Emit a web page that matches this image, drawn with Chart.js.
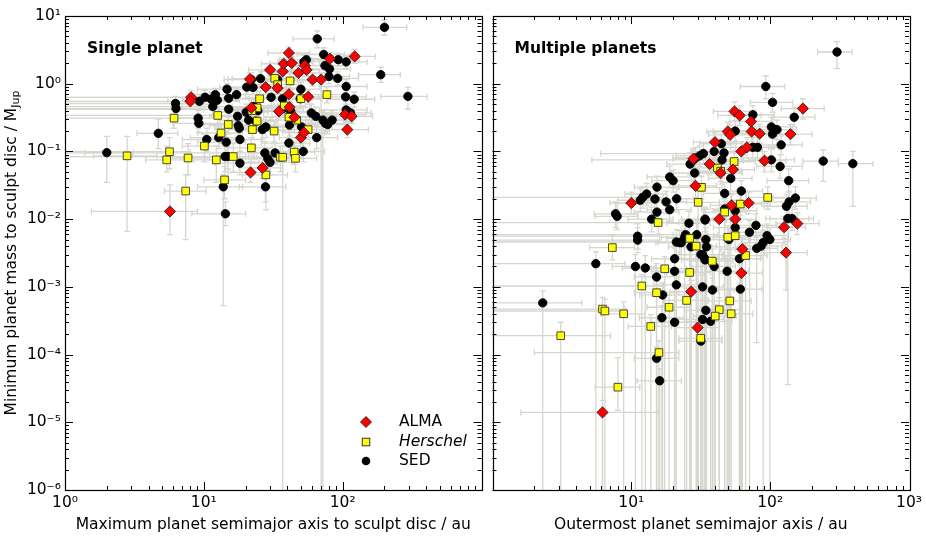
<!DOCTYPE html>
<html>
<head>
<meta charset="utf-8">
<script src="https://cdn.jsdelivr.net/npm/chart.js@4.4.1/dist/chart.umd.min.js"></script>
<style>
  html, body { margin: 0; padding: 0; background: #fff; }
  #wrap { position: relative; width: 926px; height: 544px; overflow: hidden; }
  canvas { position: absolute; top: 0; }
  #left { left: 0; }
  #right { left: 486px; }
</style>
</head>
<body>
<div id="wrap">
  <canvas id="left" width="488" height="544"></canvas>
  <canvas id="right" width="440" height="544"></canvas>
</div>
<script>
// rows: [x, y, xLow, xHigh, yLow, yHigh]
const singleSed = [
  [2, 0.096, 1.39, 3.1, 0.035, 0.167], [4.7, 0.185, 3.3, 6.5, 0.11, 0.3],
  [6.25, 0.51, 0.5, 9, 0.4, 0.65], [6.3, 0.43, 0.5, 10, 0.3, 0.55],
  [9.1, 0.31, 6, 13, 0.22, 0.4], [9.2, 0.26, 6, 13, 0.19, 0.34],
  [9.3, 0.55, 0.5, 14, 0.42, 0.7], [10.2, 0.63, 0.5, 15, 0.5, 0.8],
  [11.3, 0.59, 7, 16, 0.45, 0.75], [12.1, 0.69, 8, 17, 0.55, 0.85],
  [12.5, 0.57, 8, 18, 0.44, 0.72], [11.6, 0.46, 7, 16, 0.35, 0.6],
  [10.5, 0.15, 7, 15, 0.1, 0.22], [12.8, 0.16, 8, 18, 0.11, 0.23],
  [14.7, 0.83, 9, 20, 0.65, 1.0], [15.1, 0.61, 10, 21, 0.47, 0.78],
  [17.2, 0.69, 11, 24, 0.55, 0.87], [15.1, 0.42, 0.5, 21, 0.32, 0.55],
  [14.5, 0.137, 9, 20, 0.09, 0.2], [14.9, 0.084, 0.5, 21, 0.055, 0.12],
  [14.2, 0.084, 0.5, 20, 0.05, 0.13], [18.2, 0.067, 12, 25, 0.045, 0.1],
  [18.2, 0.15, 12, 26, 0.1, 0.22], [13.8, 0.03, 9, 19, 0.00053, 0.045],
  [14.3, 0.012, 8.2, 20, 0.008, 0.018], [17.5, 0.33, 11, 25, 0.24, 0.45],
  [17.7, 0.24, 11, 25, 0.17, 0.33], [18, 0.22, 12, 26, 0.15, 0.3],
  [20.4, 0.89, 13, 29, 0.7, 1.1], [22, 1.15, 14, 31, 0.9, 1.45],
  [25.6, 1.19, 16, 36, 0.95, 1.5], [22.6, 0.88, 14, 32, 0.7, 1.1],
  [20.2, 0.38, 13, 29, 0.28, 0.5], [22.9, 0.46, 0.5, 32, 0.35, 0.6],
  [24.5, 0.4, 15, 35, 0.3, 0.52], [21, 0.29, 13, 30, 0.2, 0.4],
  [23.6, 0.28, 15, 33, 0.2, 0.38], [26.4, 0.21, 17, 37, 0.15, 0.29],
  [28, 0.23, 18, 40, 0.16, 0.32], [27.5, 0.095, 0.5, 39, 0.065, 0.14],
  [28.9, 0.078, 18, 41, 0.05, 0.11], [30, 0.069, 19, 43, 0.045, 0.1],
  [32.6, 0.095, 21, 46, 0.065, 0.13], [27.8, 0.03, 18, 39, 0.018, 0.045],
  [36.9, 0.6, 24, 52, 0.45, 0.78], [37.1, 0.43, 24, 52, 0.32, 0.56],
  [42.3, 0.39, 27, 60, 0.29, 0.52], [41.4, 0.245, 26, 58, 0.17, 0.34],
  [41, 0.133, 26, 58, 0.09, 0.19], [50, 0.83, 32, 70, 0.65, 1.05],
  [49.4, 0.6, 32, 70, 0.46, 0.78], [52, 0.1, 33, 74, 0.07, 0.14],
  [54.8, 2.26, 35, 78, 1.8, 2.8], [52.6, 2.1, 34, 75, 1.65, 2.6],
  [50.6, 0.23, 32, 72, 0.16, 0.32], [59.5, 0.37, 38, 84, 0.27, 0.5],
  [64, 0.33, 41, 90, 0.24, 0.45], [65, 0.16, 42, 92, 0.11, 0.23],
  [65.6, 4.6, 44, 87, 3.4, 6.0], [73, 2.7, 47, 103, 2.1, 3.4],
  [74.5, 1.85, 48, 105, 1.45, 2.35], [80.5, 1.65, 52, 114, 1.3, 2.1],
  [79.7, 1.28, 51, 112, 1.0, 1.6], [72, 0.29, 46, 102, 0.0000001, 0.4],
  [75, 0.26, 48, 106, 0.19, 0.36], [78, 0.25, 50, 110, 0.18, 0.35],
  [84, 0.29, 54, 118, 0.21, 0.4], [92, 1.2, 59, 130, 0.95, 1.5],
  [93, 2.26, 60, 131, 1.8, 2.8], [106, 2.1, 68, 150, 1.65, 2.65],
  [106, 0.91, 68, 150, 0.7, 1.15], [105, 0.64, 67, 148, 0.5, 0.82],
  [121, 0.59, 78, 170, 0.45, 0.76], [106, 0.41, 68, 150, 0.3, 0.55],
  [114, 0.37, 73, 160, 0.27, 0.5], [188, 1.36, 130, 260, 1.05, 1.75],
  [200, 6.8, 140, 290, 5.2, 8.8], [295, 0.65, 188, 405, 0.42, 0.88],
  [34, 1.15, 22, 48, 0.9, 1.45], [30.5, 0.63, 20, 43, 0.48, 0.8]
];
const singleHerschel = [
  [2.8, 0.086, 1.6, 4.6, 0.0066, 0.167], [5.4, 0.075, 3.8, 7.6, 0.05, 0.12],
  [5.66, 0.099, 0.5, 8, 0.055, 0.16], [6.1, 0.31, 0.5, 8.6, 0.22, 0.42],
  [7.4, 0.026, 5.2, 10.4, 0.005, 0.045], [7.7, 0.08, 5.4, 11, 0.045, 0.13],
  [10.1, 0.12, 7, 14, 0.07, 0.18], [12.3, 0.075, 8.5, 17, 0.035, 0.12],
  [12.6, 0.34, 0.5, 18, 0.24, 0.46], [13.3, 0.187, 9, 19, 0.13, 0.26],
  [14.1, 0.038, 10, 20, 0.02, 0.06], [15, 0.25, 10, 21, 0.18, 0.34],
  [16.3, 0.084, 11, 23, 0.05, 0.13], [22, 0.113, 15, 31, 0.07, 0.16],
  [22.4, 0.21, 15, 32, 0.15, 0.29], [24.2, 0.28, 16, 34, 0.2, 0.38],
  [24.2, 0.44, 16, 34, 0.32, 0.58], [22.2, 0.4, 15, 31, 0.29, 0.53],
  [25.2, 0.6, 17, 36, 0.45, 0.78], [28, 0.045, 19, 40, 0.0137, 0.08],
  [32.1, 0.2, 21, 45, 0.14, 0.28], [32.4, 1.2, 21, 46, 0.95, 1.5],
  [34, 0.97, 22, 48, 0.75, 1.25], [35.6, 0.082, 23, 50, 0.05, 0.12],
  [37, 0.082, 24, 52, 0.0000001, 0.12], [38, 0.47, 25, 54, 0.35, 0.62],
  [41, 0.32, 27, 58, 0.23, 0.43], [41.8, 1.1, 27, 59, 0.85, 1.4],
  [44.8, 0.098, 29, 63, 0.065, 0.14], [45.7, 0.079, 30, 65, 0.05, 0.12],
  [46.6, 0.29, 30, 66, 0.21, 0.4], [50, 0.6, 33, 71, 0.45, 0.78],
  [56.4, 0.21, 37, 80, 0.15, 0.29], [77, 0.69, 50, 108, 0.52, 0.9]
];
const singleAlma = [
  [5.7, 0.013, 1.55, 9, 0.0059, 0.032], [8.1, 0.63, 0.5, 11.5, 0.5, 0.8],
  [8.0, 0.55, 5.5, 11.3, 0.42, 0.7], [21.7, 0.049, 15, 30, 0.035, 0.07],
  [21.5, 1.17, 15, 30, 0.95, 1.45], [22, 0.44, 15, 31, 0.33, 0.58],
  [26.5, 0.057, 18, 37, 0.04, 0.08], [27.9, 0.89, 19, 39, 0.7, 1.1],
  [30, 1.6, 21, 42, 1.3, 2.0], [34, 0.86, 24, 48, 0.7, 1.05],
  [34.8, 0.39, 24, 49, 0.3, 0.5], [37, 1.52, 26, 52, 1.2, 1.9],
  [37.6, 1.97, 26, 53, 1.6, 2.4], [41, 2.84, 29, 58, 2.3, 3.5],
  [41, 0.7, 29, 58, 0.55, 0.88], [41.4, 0.45, 29, 58, 0.35, 0.57],
  [43, 2.02, 30, 61, 1.6, 2.5], [44.9, 0.32, 31, 63, 0.25, 0.41],
  [48, 1.44, 34, 68, 1.15, 1.8], [50, 0.16, 35, 70, 0.12, 0.21],
  [52.6, 0.19, 37, 74, 0.15, 0.24], [53.3, 1.85, 37, 75, 1.5, 2.3],
  [55, 1.6, 38, 78, 1.3, 2.0], [56.4, 0.64, 40, 80, 0.5, 0.8],
  [60.7, 1.15, 43, 86, 0.92, 1.45], [70, 1.15, 49, 99, 0.0000001, 1.45],
  [81, 2.34, 57, 115, 1.9, 2.9], [122, 2.53, 86, 172, 2.0, 3.2],
  [104, 0.35, 73, 147, 0.28, 0.44], [116, 0.33, 82, 164, 0.26, 0.42],
  [108, 0.21, 76, 153, 0.16, 0.27]
];
const multiSed = [
  [303, 2.94, 220, 390, 1.67, 4.2], [93, 0.91, 61, 127, 0.6, 1.3],
  [104, 0.53, 72, 145, 0.38, 0.72], [149, 0.32, 105, 210, 0.23, 0.45],
  [102, 0.23, 70, 145, 0.16, 0.32], [112, 0.21, 78, 155, 0.15, 0.29],
  [104, 0.18, 72, 148, 0.12, 0.25], [120, 0.125, 84, 170, 0.09, 0.17],
  [241, 0.072, 172, 310, 0.036, 0.105], [394, 0.066, 310, 550, 0.0154, 0.1],
  [102, 0.075, 70, 150, 0.05, 0.11], [118, 0.06, 80, 170, 0.04, 0.09],
  [136, 0.037, 95, 190, 0.025, 0.055], [152, 0.0205, 105, 215, 0.014, 0.03],
  [131, 0.0155, 90, 185, 0.0105, 0.023], [137, 0.018, 95, 195, 0.012, 0.026],
  [134, 0.0102, 93, 190, 0.000036, 0.015], [144, 0.0102, 100, 205, 0.0068, 0.015],
  [75, 0.348, 52, 107, 0.25, 0.47], [81, 0.115, 56, 115, 0.08, 0.16],
  [75, 0.115, 52, 107, 0.08, 0.16], [56, 0.2, 39, 80, 0.14, 0.28],
  [52, 0.04, 36, 74, 0.0004, 0.06], [47, 0.024, 33, 67, 0.0000001, 0.035],
  [62, 0.026, 43, 88, 0.017, 0.037], [44.5, 0.13, 31, 63, 0.09, 0.18],
  [39.5, 0.1, 27, 56, 0.07, 0.14], [46.5, 0.095, 32, 66, 0.065, 0.135],
  [45, 0.075, 31, 64, 0.05, 0.11], [33, 0.093, 6, 47, 0.065, 0.13],
  [31, 0.086, 21, 44, 0.06, 0.12], [29, 0.08, 20, 41, 0.055, 0.115],
  [28, 0.075, 5.2, 40, 0.05, 0.11], [26.5, 0.065, 18, 38, 0.045, 0.095],
  [28.6, 0.048, 19.5, 41, 0.033, 0.07], [18.9, 0.042, 13, 27, 0.029, 0.06],
  [20, 0.037, 14, 28, 0.025, 0.053], [15.3, 0.0297, 10.5, 22, 0.02, 0.043],
  [14.8, 0.0198, 10, 21, 0.0135, 0.029], [17.8, 0.018, 12, 25, 0.012, 0.026],
  [21.2, 0.02, 14.5, 30, 0.0135, 0.029], [18.9, 0.0138, 13, 27, 0.0093, 0.02],
  [15.3, 0.0127, 10.5, 22, 0.0085, 0.019], [12.9, 0.0235, 9, 18, 0.016, 0.034],
  [12.1, 0.021, 0.5, 17, 0.0145, 0.03], [11.6, 0.019, 8, 16.5, 0.013, 0.028],
  [7.7, 0.012, 5.4, 11, 0.0075, 0.018], [7.9, 0.011, 5.5, 11.2, 0.007, 0.017],
  [14, 0.01, 9.5, 20, 0.0065, 0.015], [34, 0.01, 23, 48, 0.0065, 0.015],
  [47, 0.0141, 32, 67, 0.0095, 0.02], [56, 0.0133, 39, 80, 0.009, 0.019],
  [26, 0.0087, 18, 37, 0.0058, 0.013], [11.1, 0.0056, 0.5, 16, 0.0036, 0.0085],
  [11.1, 0.0049, 0.5, 16, 0.0032, 0.0075], [10.7, 0.002, 7.3, 15, 0.0000001, 0.003],
  [12.6, 0.0019, 8.6, 18, 0.0000001, 0.0029], [15.2, 0.0014, 10.5, 22, 0.0000001, 0.0022],
  [20.5, 0.0026, 14, 29, 0.0000001, 0.004], [20.5, 0.0017, 14, 29, 0.0000001, 0.0026],
  [24.2, 0.0054, 16.5, 34, 0.0000001, 0.008], [22.3, 0.0045, 15, 32, 0.003, 0.0068],
  [21.1, 0.0046, 0.5, 30, 0.003, 0.007], [29.6, 0.0059, 20, 42, 0.0000001, 0.009],
  [34.4, 0.005, 24, 49, 0.0000001, 0.0075], [34.8, 0.0039, 24, 49, 0.0000001, 0.006],
  [32.6, 0.003, 22, 46, 0.0000001, 0.0045], [33.9, 0.0026, 23, 48, 0.0000001, 0.004],
  [39.5, 0.002, 27, 56, 0.0000001, 0.003], [49, 0.0017, 34, 70, 0.0000001, 0.0026],
  [60, 0.0026, 42, 85, 0.0000001, 0.004], [56, 0.0075, 39, 80, 0.005, 0.011],
  [50.5, 0.005, 35, 72, 0.0000001, 0.0075], [71, 0.0064, 50, 100, 0.0000001, 0.0095],
  [79, 0.0081, 55, 112, 0.0054, 0.012], [80, 0.0037, 56, 113, 0.00015, 0.0056],
  [89, 0.0045, 62, 126, 0.0000001, 0.0068], [86, 0.004, 60, 122, 0.0026, 0.006],
  [95, 0.0057, 66, 135, 0.0038, 0.0085], [99.5, 0.005, 70, 140, 0.0000001, 0.0075],
  [5.55, 0.0022, 0.5, 9, 0.0000001, 0.0033], [16.8, 0.00076, 11.5, 24, 0.0000001, 0.00115],
  [21.1, 0.00107, 14.5, 30, 0.0000001, 0.0016], [16.6, 0.00035, 11.4, 24, 0.0000001, 0.00053],
  [20.5, 0.0003, 14, 29, 0.0000001, 0.00045], [22.9, 0.0045, 15.6, 32.5, 0.003, 0.0068],
  [24.6, 0.0059, 0.5, 35, 0.004, 0.009], [26.9, 0.0039, 18.5, 38, 0.0000001, 0.006],
  [34, 0.0097, 23, 48, 0.0065, 0.0145], [31.7, 0.003, 22, 45, 0.0000001, 0.0045],
  [34, 0.0025, 23, 48, 0.0000001, 0.0038], [32.6, 0.001, 22, 46, 0.0000001, 0.0015],
  [38.4, 0.0009, 26, 55, 0.0000001, 0.00135], [34.4, 0.00045, 24, 49, 0.0000001, 0.00068],
  [32.6, 0.00033, 22, 46, 0.0000001, 0.0005], [37.2, 0.00031, 25, 53, 0.0000001, 0.00047],
  [61, 0.000925, 42, 87, 0.0000001, 0.0014], [2.3, 0.00058, 0.5, 4.4, 0.0000001, 0.00087],
  [31.7, 0.000158, 22, 45, 0.0000001, 0.00024], [15.2, 0.000088, 10.5, 22, 0.0000001, 0.00013],
  [16, 0.000041, 11, 23, 0.0000001, 0.000062]
];
const multiHerschel = [
  [55, 0.071, 38, 78, 0.05, 0.1], [41.7, 0.057, 29, 59, 0.04, 0.08],
  [44, 0.051, 31, 62, 0.036, 0.072], [32, 0.0295, 22, 45, 0.02, 0.043],
  [30.3, 0.0177, 21, 43, 0.0000001, 0.026], [96, 0.0209, 67, 137, 0.014, 0.03],
  [61, 0.0167, 43, 87, 0.0115, 0.024], [47, 0.0127, 33, 67, 0.0000001, 0.018],
  [15.6, 0.0089, 0.5, 22, 0.006, 0.013], [7.3, 0.0038, 5, 10.5, 0.0025, 0.0057],
  [26.3, 0.0052, 18, 37, 0.0000001, 0.0078], [29.3, 0.004, 20, 41, 0.0000001, 0.006],
  [49.5, 0.0054, 34, 70, 0.0000001, 0.008], [56, 0.0057, 39, 80, 0.0038, 0.0085],
  [66.5, 0.0029, 46, 95, 0.0000001, 0.0043], [38.3, 0.0024, 27, 54, 0.0000001, 0.0036],
  [17.4, 0.00185, 12, 25, 0.0000001, 0.0028], [26.3, 0.00163, 18, 37, 0.0000001, 0.0025],
  [11.9, 0.00103, 0.5, 17, 0.0000001, 0.0015], [15.2, 0.00082, 10.5, 22, 0.0000001, 0.00123],
  [25, 0.00063, 17, 36, 0.0000001, 0.00095], [51.2, 0.00062, 35, 73, 0.0000001, 0.00093],
  [18.7, 0.0005, 13, 27, 0.0000001, 0.00075], [6.2, 0.00047, 0.5, 9, 0.0000001, 0.0007],
  [6.45, 0.00044, 0.5, 9.3, 0.0000001, 0.00066], [8.8, 0.0004, 6, 12.6, 0.0000001, 0.0006],
  [43, 0.00046, 30, 61, 0.0000001, 0.00069], [52.4, 0.0004, 36, 75, 0.0000001, 0.0006],
  [40.2, 0.00037, 28, 57, 0.0000001, 0.00055], [13.8, 0.00026, 9.5, 19.5, 0.0000001, 0.00039],
  [31.6, 0.000174, 22, 45, 0.0000001, 0.00026], [3.1, 0.00019, 0.5, 7.1, 0.0000001, 0.0003],
  [15.8, 0.000107, 2, 22, 0.0000001, 0.00016], [8.0, 0.000033, 5.5, 11.5, 0.000015, 0.00009]
];
const multiAlma = [
  [172, 0.43, 120, 245, 0.3, 0.6], [55.4, 0.39, 39, 79, 0.28, 0.54],
  [60.3, 0.34, 42, 86, 0.24, 0.47], [72.8, 0.277, 51, 104, 0.2, 0.38],
  [49.5, 0.197, 35, 70, 0.14, 0.27], [51.5, 0.176, 36, 73, 0.125, 0.245],
  [73.6, 0.197, 52, 105, 0.14, 0.27], [84, 0.183, 59, 120, 0.13, 0.25],
  [140, 0.18, 98, 200, 0.125, 0.25], [40, 0.137, 28, 57, 0.095, 0.19],
  [62, 0.1, 43, 88, 0.07, 0.14], [68, 0.115, 48, 97, 0.08, 0.16],
  [91, 0.073, 64, 130, 0.05, 0.1], [28, 0.078, 20, 40, 0.055, 0.11],
  [36.6, 0.065, 26, 52, 0.045, 0.092], [44, 0.048, 31, 63, 0.033, 0.068],
  [54, 0.054, 38, 77, 0.037, 0.077], [29, 0.031, 20, 41, 0.021, 0.044],
  [10, 0.0173, 7, 14, 0.012, 0.025], [52.7, 0.016, 37, 75, 0.011, 0.023],
  [70, 0.0173, 49, 100, 0.012, 0.025], [43, 0.01, 30, 61, 0.0000001, 0.0145],
  [56, 0.01, 39, 80, 0.0068, 0.0145], [126, 0.0076, 88, 180, 0.0052, 0.011],
  [157, 0.0086, 110, 225, 0.0059, 0.0125], [130, 0.0032, 91, 185, 0.0009, 0.0047],
  [63, 0.0036, 44, 90, 0.0000001, 0.0053], [62, 0.0016, 43, 88, 0.0000001, 0.0024],
  [27, 0.00085, 19, 38.5, 0.0000001, 0.00125], [30, 0.00025, 21, 43, 0.0000001, 0.00037],
  [6.2, 0.000014, 1.6, 15.6, 0.0000001, 0.000021]
];

const xTicks = [1, 10, 100, 1000];
const yTicks = [1e-6, 1e-5, 1e-4, 1e-3, 1e-2, 1e-1, 1, 10];
const seriesNames = ['ALMA', 'Herschel', 'SED'];

const FONT = '"DejaVu Sans", Verdana, sans-serif';
const FS = 15.5;
const SUP = { '-': '\u207B', '0': '\u2070', '1': '\u00B9', '2': '\u00B2', '3': '\u00B3',
              '4': '\u2074', '5': '\u2075', '6': '\u2076' };
function powLabel(v) {
  const e = Math.round(Math.log10(v));
  return '10' + String(e).split('').map(c => SUP[c]).join('');
}

const errorBars = {
  id: 'errorBars',
  beforeDatasetsDraw(chart) {
    const { ctx, chartArea: a, scales: { x, y } } = chart;
    ctx.save();
    ctx.beginPath();
    ctx.rect(a.left, a.top, a.right - a.left, a.bottom - a.top);
    ctx.clip();
    ctx.strokeStyle = '#d5d6ce';
    ctx.lineWidth = 1.3;
    const cap = 3;
    chart.data.datasets.forEach(ds => {
      ds.rows.forEach(r => {
        const px = x.getPixelForValue(r[0]), py = y.getPixelForValue(r[1]);
        const x0 = x.getPixelForValue(r[2]), x1 = x.getPixelForValue(r[3]);
        const y0 = y.getPixelForValue(r[4]), y1 = y.getPixelForValue(r[5]);
        ctx.beginPath();
        ctx.moveTo(x0, py); ctx.lineTo(x1, py);
        ctx.moveTo(x0, py - cap); ctx.lineTo(x0, py + cap);
        ctx.moveTo(x1, py - cap); ctx.lineTo(x1, py + cap);
        ctx.moveTo(px, y0); ctx.lineTo(px, y1);
        ctx.moveTo(px - cap, y0); ctx.lineTo(px + cap, y0);
        ctx.moveTo(px - cap, y1); ctx.lineTo(px + cap, y1);
        ctx.stroke();
      });
    });
    ctx.restore();
  }
};

const frameTicks = {
  id: 'frameTicks',
  afterDraw(chart) {
    const { ctx, chartArea: a, scales: { x, y } } = chart;
    ctx.save();
    ctx.strokeStyle = '#000';
    ctx.lineWidth = 1;
    ctx.beginPath();
    for (let n = 0; n < 3; n++) {
      for (let m = 1; m <= 9; m++) {
        const v = m * Math.pow(10, n);
        const p = Math.round(x.getPixelForValue(v)) + 0.5;
        const len = m === 1 ? 8 : 4;
        ctx.moveTo(p, a.bottom); ctx.lineTo(p, a.bottom - len);
        ctx.moveTo(p, a.top); ctx.lineTo(p, a.top + len);
      }
    }
    for (let n = -6; n < 1; n++) {
      for (let m = 1; m <= 9; m++) {
        const v = m * Math.pow(10, n);
        const p = Math.round(y.getPixelForValue(v)) + 0.5;
        const len = m === 1 ? 8 : 4;
        ctx.moveTo(a.left, p); ctx.lineTo(a.left + len, p);
        ctx.moveTo(a.right, p); ctx.lineTo(a.right - len, p);
      }
    }
    ctx.stroke();
    ctx.lineWidth = 1.2;
    ctx.strokeRect(Math.round(a.left) + 0.5, Math.round(a.top) + 0.5,
      Math.round(a.right - a.left), Math.round(a.bottom - a.top));
    ctx.restore();
  }
};

const panelText = {
  id: 'panelText',
  afterDatasetsDraw(chart, args, opts) {
    const { ctx, chartArea: a } = chart;
    ctx.save();
    ctx.fillStyle = '#000';
    ctx.textBaseline = 'middle';
    ctx.font = 'bold ' + FS + 'px ' + FONT;
    ctx.fillText(opts.label, a.left + 22, a.top + 33);
    if (opts.legend) {
      const lx = a.left + 301, tx = a.left + 334;
      const rows = [[seriesNames[0], 406], [seriesNames[1], 426], [seriesNames[2], 445]];
      ctx.lineWidth = 0.9;
      ctx.strokeStyle = '#222';
      ctx.fillStyle = '#ff0000';
      ctx.beginPath();
      ctx.moveTo(lx - 5.5, a.top + rows[0][1]); ctx.lineTo(lx, a.top + rows[0][1] - 5.5);
      ctx.lineTo(lx + 5.5, a.top + rows[0][1]); ctx.lineTo(lx, a.top + rows[0][1] + 5.5);
      ctx.closePath(); ctx.fill(); ctx.stroke();
      ctx.fillStyle = '#ffff00';
      ctx.fillRect(lx - 3.8, a.top + rows[1][1] - 3.8, 7.6, 7.6);
      ctx.strokeRect(lx - 3.8, a.top + rows[1][1] - 3.8, 7.6, 7.6);
      ctx.fillStyle = '#000';
      ctx.beginPath(); ctx.arc(lx, a.top + rows[2][1], 4.3, 0, Math.PI * 2); ctx.fill();
      ctx.font = FS + 'px ' + FONT;
      ctx.fillText(rows[0][0], tx, a.top + rows[0][1]);
      ctx.font = 'italic ' + FS + 'px ' + FONT;
      ctx.fillText(rows[1][0], tx, a.top + rows[1][1]);
      ctx.font = FS + 'px ' + FONT;
      ctx.fillText(rows[2][0], tx, a.top + rows[2][1]);
    }
    if (opts.yTitle) {
      ctx.translate(12, (a.top + a.bottom) / 2);
      ctx.rotate(-Math.PI / 2);
      const main = 'Minimum planet mass to sculpt disc / M';
      const sub = 'Jup';
      ctx.font = FS + 'px ' + FONT;
      const w1 = ctx.measureText(main).width;
      ctx.font = '11px ' + FONT;
      const w2 = ctx.measureText(sub).width;
      const start = -(w1 + w2) / 2;
      ctx.font = FS + 'px ' + FONT;
      ctx.fillText(main, start, 0);
      ctx.font = '11px ' + FONT;
      ctx.fillText(sub, start + w1, 4);
    }
    ctx.restore();
  }
};

function makeDataset(name, rows, style, radius, fill, border, order) {
  return {
    label: name,
    rows: rows,
    data: rows.map(r => ({ x: r[0], y: r[1] })),
    pointStyle: style,
    pointRadius: radius,
    pointHoverRadius: radius,
    pointBackgroundColor: fill,
    pointBorderColor: border,
    pointBorderWidth: 0.9,
    order: order
  };
}

function makePanel(id, sed, herschel, alma, o) {
  return new Chart(document.getElementById(id), {
    type: 'scatter',
    data: {
      datasets: [
        makeDataset(seriesNames[0], alma, 'rectRot', 5.6, '#ff0000', '#222', 0),
        makeDataset(seriesNames[1], herschel, 'rect', 5.4, '#ffff00', '#333', 1),
        makeDataset(seriesNames[2], sed, 'circle', 4.2, '#000', '#000', 2)
      ]
    },
    options: {
      responsive: false,
      animation: false,
      events: [],
      layout: { padding: o.padding },
      plugins: {
        legend: { display: false },
        tooltip: { enabled: false },
        panelText: { label: o.label, legend: o.legend, yTitle: o.legend }
      },
      scales: {
        x: {
          type: 'logarithmic', min: 1, max: 1000,
          afterBuildTicks: s => { s.ticks = xTicks.map(v => ({ value: v })); },
          afterFit: s => { s.height = 54; },
          grid: { display: false, drawTicks: false },
          border: { display: false },
          ticks: {
            autoSkip: false, maxRotation: 0, minRotation: 0, padding: 4, color: '#000',
            font: { family: FONT, size: FS },
            callback: v => (o.xShown.includes(v) ? powLabel(v) : '')
          },
          title: {
            display: true, text: o.xTitle, color: '#000',
            font: { family: FONT, size: FS }, padding: { top: 0, bottom: 10 }
          }
        },
        y: {
          type: 'logarithmic', min: 1e-6, max: 10,
          display: o.legend,
          afterBuildTicks: s => { s.ticks = yTicks.map(v => ({ value: v })); },
          afterFit: s => { s.width = o.legend ? 65 : 0; },
          grid: { display: false, drawTicks: false },
          border: { display: false },
          ticks: {
            autoSkip: false, padding: 4, color: '#000',
            font: { family: FONT, size: FS },
            callback: v => powLabel(v)
          }
        }
      }
    },
    plugins: [errorBars, frameTicks, panelText]
  });
}

makePanel('left', singleSed, singleHerschel, singleAlma, {
  padding: { top: 16, right: 1, bottom: 0, left: 0 },
  label: 'Single planet',
  legend: true,
  xShown: [1, 10, 100],
  xTitle: 'Maximum planet semimajor axis to sculpt disc / au'
});
makePanel('right', multiSed, multiHerschel, multiAlma, {
  padding: { top: 16, right: 17, bottom: 0, left: 1 },
  label: 'Multiple planets',
  legend: false,
  xShown: [10, 100, 1000],
  xTitle: 'Outermost planet semimajor axis / au'
});
</script>
</body>
</html>
